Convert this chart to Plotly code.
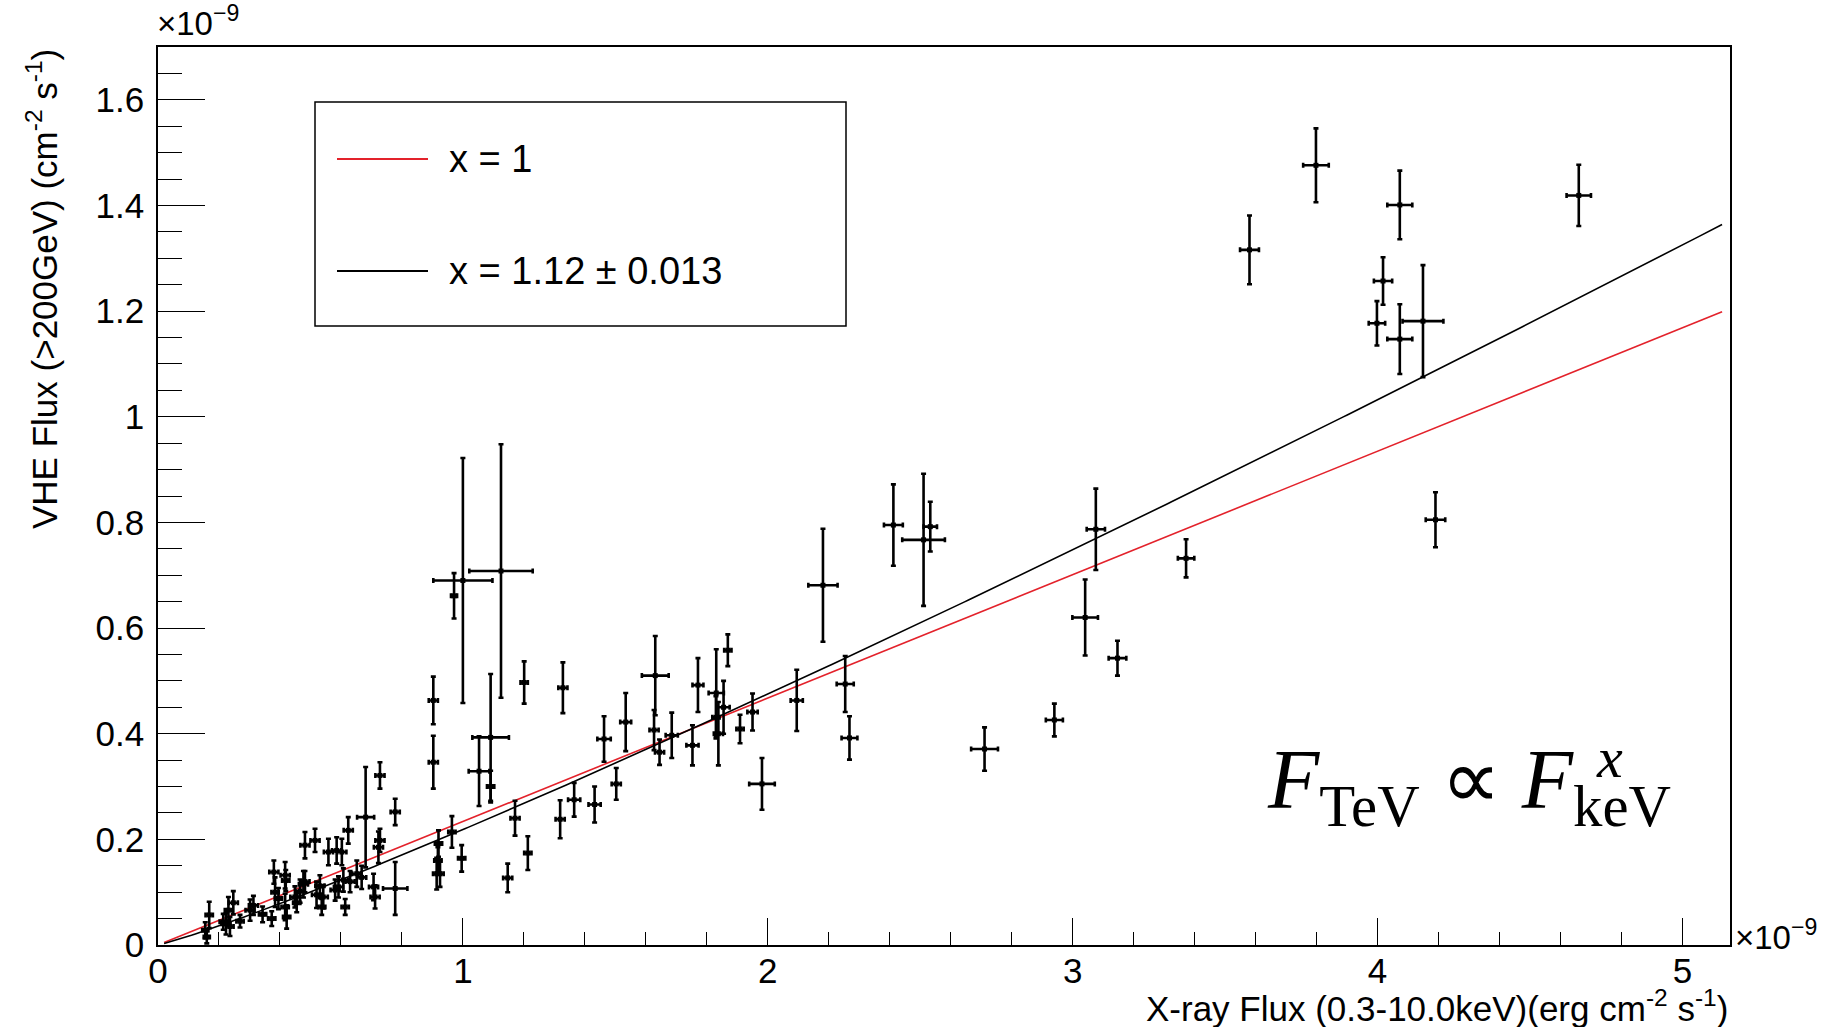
import numpy as np
import plotly.graph_objects as go

# X-ray flux (0.3-10 keV) and VHE flux (>200 GeV), both in units of 1e-9
xray_flux = [0.155, 0.160, 0.168, 0.214, 0.223, 0.231, 0.236, 0.247, 0.269, 0.302,
             0.313, 0.343, 0.373, 0.380, 0.384, 0.395, 0.417, 0.419, 0.417, 0.422,
             0.449, 0.466, 0.477, 0.482, 0.455, 0.482, 0.515, 0.520, 0.531, 0.542,
             0.537, 0.559, 0.586, 0.603, 0.581, 0.592, 0.614, 0.608, 0.624, 0.630,
             0.652, 0.668, 0.681, 0.707, 0.712, 0.723, 0.728, 0.728, 0.778, 0.778,
             0.903, 0.903, 0.914, 0.920, 0.925, 0.918, 0.964, 0.971, 0.996, 1.000,
             1.053, 1.091, 1.091, 1.125, 1.147, 1.171, 1.201, 1.213, 1.319, 1.328,
             1.365, 1.432, 1.463, 1.503, 1.534, 1.631, 1.627, 1.645, 1.685, 1.753,
             1.771, 1.831, 1.855, 1.838, 1.830, 1.869, 1.909, 1.950, 1.981, 2.095,
             2.181, 2.254, 2.268, 2.412, 2.511, 2.533, 2.711, 2.940, 3.041, 3.076,
             3.147, 3.372, 3.580, 3.798, 3.998, 4.018, 4.073, 4.073, 4.149, 4.190,
             4.660]
xray_err = [0.010, 0.010, 0.012, 0.012, 0.015, 0.012, 0.012, 0.015, 0.012, 0.015,
            0.015, 0.012, 0.012, 0.015, 0.012, 0.012, 0.015, 0.012, 0.012, 0.012,
            0.015, 0.015, 0.015, 0.015, 0.012, 0.015, 0.015, 0.015, 0.015, 0.015,
            0.012, 0.015, 0.015, 0.015, 0.015, 0.015, 0.012, 0.015, 0.015, 0.015,
            0.015, 0.015, 0.028, 0.015, 0.015, 0.015, 0.015, 0.015, 0.015, 0.040,
            0.015, 0.015, 0.012, 0.012, 0.012, 0.012, 0.012, 0.010, 0.012, 0.097,
            0.034, 0.060, 0.012, 0.104, 0.015, 0.015, 0.012, 0.012, 0.015, 0.015,
            0.020, 0.020, 0.022, 0.015, 0.018, 0.044, 0.015, 0.015, 0.020, 0.020,
            0.018, 0.025, 0.020, 0.015, 0.012, 0.012, 0.012, 0.017, 0.042, 0.020,
            0.048, 0.028, 0.026, 0.031, 0.070, 0.022, 0.044, 0.028, 0.042, 0.030,
            0.029, 0.027, 0.031, 0.042, 0.027, 0.030, 0.041, 0.041, 0.067, 0.032,
            0.040]
vhe_flux = [0.028, 0.015, 0.057, 0.044, 0.040, 0.066, 0.035, 0.080, 0.045, 0.066,
            0.075, 0.058, 0.050, 0.138, 0.100, 0.088, 0.132, 0.122, 0.072, 0.053,
            0.091, 0.102, 0.115, 0.189, 0.080, 0.120, 0.198, 0.095, 0.112, 0.091,
            0.072, 0.176, 0.179, 0.176, 0.104, 0.110, 0.072, 0.123, 0.217, 0.120,
            0.135, 0.128, 0.242, 0.110, 0.091, 0.185, 0.198, 0.321, 0.252, 0.107,
            0.346, 0.463, 0.135, 0.192, 0.135, 0.160, 0.214, 0.661, 0.164, 0.690,
            0.329, 0.393, 0.300, 0.708, 0.127, 0.240, 0.497, 0.174, 0.238, 0.487,
            0.275, 0.266, 0.390, 0.305, 0.422, 0.510, 0.407, 0.365, 0.397, 0.378,
            0.492, 0.477, 0.450, 0.400, 0.431, 0.558, 0.409, 0.441, 0.305, 0.463,
            0.681, 0.494, 0.392, 0.795, 0.767, 0.792, 0.371, 0.426, 0.620, 0.787,
            0.543, 0.732, 1.316, 1.476, 1.177, 1.257, 1.401, 1.147, 1.181, 0.805,
            1.419]
vhe_err = [0.015, 0.012, 0.025, 0.015, 0.020, 0.025, 0.018, 0.022, 0.012, 0.020,
           0.018, 0.015, 0.014, 0.022, 0.028, 0.020, 0.025, 0.020, 0.025, 0.022,
           0.020, 0.022, 0.025, 0.025, 0.018, 0.020, 0.022, 0.025, 0.020, 0.022,
           0.015, 0.025, 0.025, 0.025, 0.020, 0.020, 0.015, 0.022, 0.025, 0.020,
           0.025, 0.022, 0.095, 0.025, 0.022, 0.030, 0.022, 0.025, 0.025, 0.050,
           0.050, 0.045, 0.030, 0.025, 0.025, 0.025, 0.030, 0.043, 0.025, 0.232,
           0.066, 0.120, 0.030, 0.240, 0.027, 0.033, 0.040, 0.032, 0.036, 0.048,
           0.032, 0.034, 0.043, 0.030, 0.055, 0.075, 0.038, 0.024, 0.043, 0.038,
           0.051, 0.083, 0.050, 0.060, 0.040, 0.030, 0.027, 0.035, 0.049, 0.058,
           0.107, 0.053, 0.041, 0.077, 0.125, 0.047, 0.041, 0.031, 0.072, 0.077,
           0.033, 0.036, 0.065, 0.070, 0.042, 0.045, 0.065, 0.066, 0.106, 0.052,
           0.058]

# Power-law fits F_TeV = A * F_keV^x (fluxes in units of 1e-9)
fit_linear = {"index": 1.0, "norm": 0.2337, "label": "x = 1", "color": "#e3222b"}
fit_free = {"index": 1.12, "norm": 0.2185, "label": "x = 1.12 \u00b1 0.013", "color": "black"}
fit_range = (0.02, 5.13)

x_range = [0, 5.156]
y_range = [0, 1.7]

fig = go.Figure()

xs = np.linspace(fit_range[0], fit_range[1], 400)
for fit in (fit_linear, fit_free):
    fig.add_trace(go.Scatter(
        x=xs, y=fit["norm"] * xs ** fit["index"], mode="lines",
        line=dict(color=fit["color"], width=1.6), name=fit["label"],
        showlegend=False, hoverinfo="skip"))

fig.add_trace(go.Scatter(
    x=xray_flux, y=vhe_flux, mode="markers",
    marker=dict(color="black", size=5, symbol="square"),
    error_x=dict(type="data", array=xray_err, color="black", thickness=2.6, width=2.5),
    error_y=dict(type="data", array=vhe_err, color="black", thickness=2.6, width=2.5),
    showlegend=False, name="data"))

tick_font = dict(family="Liberation Sans, Arial, sans-serif", size=35, color="black")

fig.update_xaxes(
    range=x_range, showgrid=False, zeroline=False,
    showline=True, linecolor="black", linewidth=1.5, mirror=True,
    ticks="inside", tickvals=[0, 1, 2, 3, 4, 5], ticklen=27, tickwidth=1.3,
    tickcolor="black", tickfont=tick_font, ticklabelstandoff=-6,
    minor=dict(dtick=0.2, ticks="inside", ticklen=13, tickwidth=1.3, tickcolor="black"),
)
fig.update_yaxes(
    range=y_range, showgrid=False, zeroline=False,
    showline=True, linecolor="black", linewidth=1.5, mirror=True,
    ticks="inside", tickvals=[0, 0.2, 0.4, 0.6, 0.8, 1.0, 1.2, 1.4, 1.6],
    ticktext=["0", "0.2", "0.4", "0.6", "0.8", "1", "1.2", "1.4", "1.6"],
    ticklen=47, tickwidth=1.3, tickcolor="black", tickfont=tick_font,
    ticklabelstandoff=5,
    minor=dict(dtick=0.05, ticks="inside", ticklen=24, tickwidth=1.3, tickcolor="black"),
)

L, R, T, B = 158, 94, 47, 82
W, H = 1824, 1027
pw, ph = W - L - R, H - T - B


def px(xp):
    return (xp - L) / pw


def py(yp):
    return (H - B - yp) / ph


title_font = dict(family="Liberation Sans, Arial, sans-serif", size=35, color="black")
annotations = [
    dict(text="X-ray Flux (0.3-10.0keV)(erg cm<sup>-2</sup> s<sup>-1</sup>)",
         x=1, y=py(1006), xref="paper", yref="paper", xanchor="right", yanchor="middle",
         showarrow=False, font=title_font),
    dict(text="VHE Flux (>200GeV) (cm<sup>-2</sup> s<sup>-1</sup>)",
         x=px(42), y=1, xref="paper", yref="paper", xanchor="center", yanchor="top",
         textangle=-90, showarrow=False, font=title_font),
    dict(text="\u00d710<sup>\u22129</sup>", x=px(155), y=py(44), xref="paper", yref="paper",
         xanchor="left", yanchor="bottom", showarrow=False,
         font=dict(family="Liberation Sans, Arial, sans-serif", size=33, color="black")),
    dict(text="\u00d710<sup>\u22129</sup>", x=px(1733), y=py(935), xref="paper", yref="paper",
         xanchor="left", yanchor="middle", showarrow=False,
         font=dict(family="Liberation Sans, Arial, sans-serif", size=33, color="black")),
    dict(text="<i>F</i><sub>TeV</sub> \u221d <i>F</i><sub>keV</sub>",
         x=px(1265), y=py(786), xref="paper", yref="paper", xanchor="left", yanchor="middle",
         showarrow=False,
         font=dict(family="Liberation Serif, Times New Roman, serif", size=84, color="black")),
    dict(text="<i>x</i>", x=px(1594), y=py(757), xref="paper", yref="paper",
         xanchor="left", yanchor="middle", showarrow=False,
         font=dict(family="Liberation Serif, Times New Roman, serif", size=58, color="black")),
]

# Legend box drawn in paper coordinates
legend_font = dict(family="Liberation Sans, Arial, sans-serif", size=38, color="black")
shapes = [dict(type="rect", xref="paper", yref="paper", x0=px(315), x1=px(846),
               y0=py(326), y1=py(102), line=dict(color="black", width=1.5),
               fillcolor="white", layer="above")]
for fit, ypix in ((fit_linear, 159), (fit_free, 271)):
    shapes.append(dict(type="line", xref="paper", yref="paper", x0=px(337), x1=px(428),
                       y0=py(ypix), y1=py(ypix), line=dict(color=fit["color"], width=2),
                       layer="above"))
    annotations.append(dict(text=fit["label"], x=px(447), y=py(ypix), xref="paper",
                            yref="paper", xanchor="left", yanchor="middle",
                            showarrow=False, font=legend_font))

fig.update_layout(
    width=W, height=H, margin=dict(l=L, r=R, t=T, b=B),
    paper_bgcolor="white", plot_bgcolor="white",
    shapes=shapes, annotations=annotations, showlegend=False,
)

fig.write_html("out.html")
